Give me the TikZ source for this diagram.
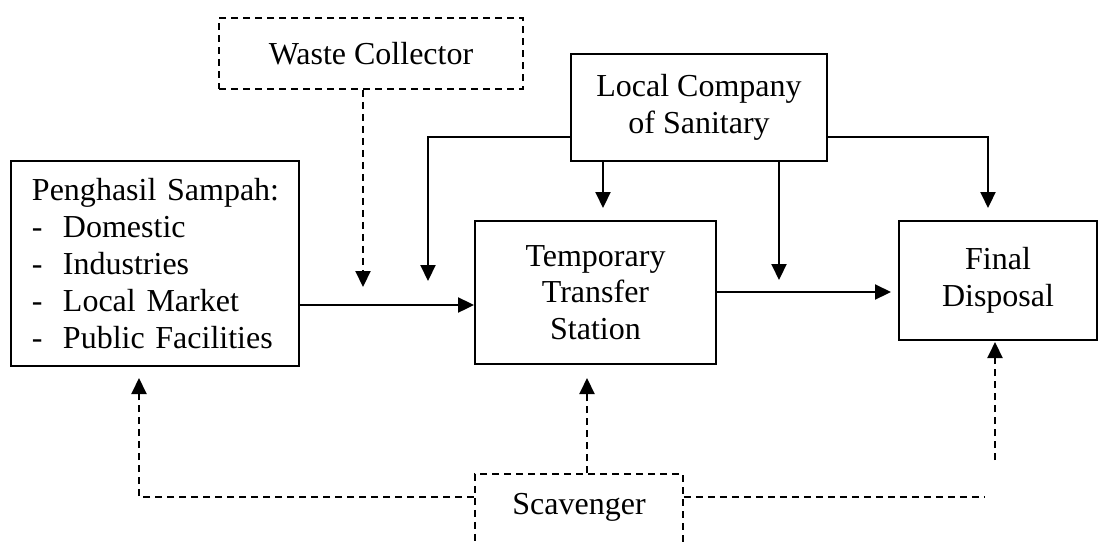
\documentclass[tikz,border=0pt]{standalone}
\usepackage{fontspec}
\setmainfont{Liberation Serif}
\usetikzlibrary{arrows.meta,positioning}

\begin{document}
\begin{tikzpicture}[x=0.5pt,y=-0.5pt,
    every node/.style={font=\fontsize{16}{18.4}\selectfont, inner sep=0pt},
    box/.style={draw, line width=0.95pt, align=center},
    dbox/.style={box, dash pattern=on 3.5pt off 2.5pt},
    arr/.style={line width=1.05pt, -{Triangle[length=8pt,width=7.5pt]}},
    darr/.style={arr, dash pattern=on 3.5pt off 2.5pt},
    dline/.style={line width=1.05pt, dash pattern=on 3.5pt off 2.5pt}]
\useasboundingbox (0,0) rectangle (1101,542);

% boxes
\node[dbox, minimum width=152pt, minimum height=35.5pt] (wc) at (371,53.5) {Waste Collector};
\node[box, minimum width=128pt, minimum height=53.5pt] (lc) at (699,107.5) {Local Company\\of Sanitary};
\node[box, minimum width=144pt, minimum height=102.5pt, text width=123pt, align=left] (pg) at (155,263.5)
    {\mbox{Penghasil Sampah:}\\
     \makebox[15.5pt][l]{-}Domestic\\
     \makebox[15.5pt][l]{-}Industries\\
     \makebox[15.5pt][l]{-}Local Market\\
     \makebox[15.5pt][l]{-}\mbox{Public Facilities}};
\node[box, minimum width=120.5pt, minimum height=71.5pt] (tts) at (595.5,292.5) {Temporary\\Transfer\\Station};
\node[box, minimum width=99pt, minimum height=59.5pt] (fd) at (998,280.5) {Final\\Disposal};
\node[dbox, anchor=north, minimum width=104pt, text height=11pt, text depth=8pt, inner ysep=9.5pt] (sc) at (579,473) {Scavenger};

% end points
\coordinate (wcEnd) at (363,287);
\coordinate (lcL) at (428,281);
\coordinate (lcR) at (988,208);
\coordinate (ttsIn) at (603,208);
\coordinate (midIn) at (779,280);
\coordinate (fdIn) at (891,292);
\coordinate (pgIn) at (139,378);
\coordinate (ttsUp) at (587,378);
\coordinate (scR) at (985,497);
\coordinate (fdUp) at (995,342);

% flows
\draw[darr] (wc.south -| wcEnd) -- (wcEnd);
\draw[arr] (pg.east |- 0,305) -- (tts.west |- 0,305);
\draw[arr] (lc.west |- 0,137) -| (lcL);
\draw[arr] (lc.east |- 0,137) -| (lcR);
\draw[arr] (lc.south -| ttsIn) -- (ttsIn);
\draw[arr] (lc.south -| midIn) -- (midIn);
\draw[arr] (tts.east |- fdIn) -- (fdIn);

% scavenger
\draw[darr] (sc.west |- 0,497) -| (pgIn);
\draw[darr] (sc.north -| ttsUp) -- (ttsUp);
\draw[dline] (sc.east |- scR) -- (scR);
\draw[darr] (fdUp |- 0,460) -- (fdUp);
\end{tikzpicture}
\end{document}
